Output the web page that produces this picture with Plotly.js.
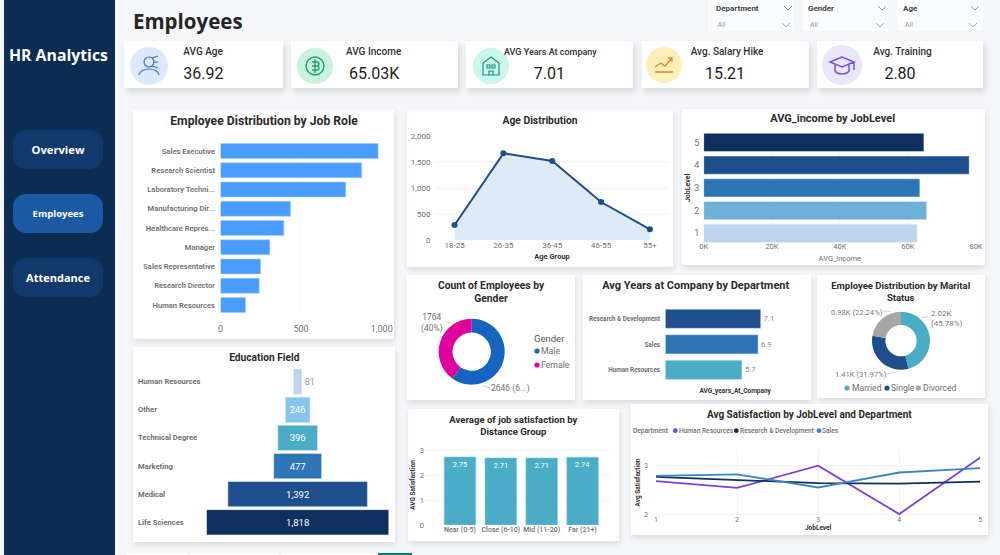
<!DOCTYPE html>
<html><head><meta charset="utf-8">
<script src="https://cdn.plot.ly/plotly-3.0.1.min.js"></script>
<style>
html,body{margin:0;padding:0;width:1000px;height:555px;overflow:hidden;background:#f4f6f9;font-family:Roboto,sans-serif}
.a{position:absolute}
.card{position:absolute;background:#fff;box-shadow:1px 3px 6px rgba(0,0,0,.10)}
.kpi{position:absolute;background:#fff;box-shadow:2px 4px 6px rgba(0,0,0,.13);top:41px;height:47px}
.circ{position:absolute;border-radius:50%}
.t{position:absolute;white-space:nowrap;line-height:1;transform:translateY(-50%)}
.c{transform:translate(-50%,-50%)}
.nav{position:absolute;left:13px;width:90px;height:39px;border-radius:13px;background:#12396b;color:#fff;font-family:"Open Sans",sans-serif;font-weight:700;display:flex;align-items:center;justify-content:center}
.fb{position:absolute;top:0;height:31px;background:#fbfcfd}
svg{position:absolute;overflow:visible}
</style></head><body>
<div class="a" style="left:4px;top:0;width:111px;height:555px;background:#0c2c52"></div>
<div class="t" style="left:9px;top:55px;color:#fff;font:700 15.8px 'Open Sans',sans-serif">HR Analytics</div>
<div class="nav" style="top:130px;font-size:11.2px">Overview</div>
<div class="nav" style="top:194px;font-size:9.5px;background:#1a5aa5">Employees</div>
<div class="nav" style="top:258px;font-size:11px">Attendance</div>
<div class="t" style="left:133px;top:21px;color:#252525;font:700 20.5px 'Open Sans',sans-serif">Employees</div>
<div id="filters"></div><div id="kpis"></div><div id="charts"></div>
<script>
// ---- data ----
const kpiLabels = ['AVG Age','AVG Income','AVG Years At company','Avg. Salary Hike','Avg. Training'];
const kpiValues = ['36.92','65.03K','7.01','15.21','2.80'];
const filterNames = ['Department','Gender','Age'];
const roleCats = ['Human Resources','Research Director','Sales Representative','Manager','Healthcare Repres...','Manufacturing Dir...','Laboratory Techni...','Research Scientist','Sales Executive'];
const roleVals = [156,240,249,306,393,435,777,876,978];
const ageCats = ['18-25','26-35','36-45','46-55','55+'];
const ageVals = [292,1663,1516,732,210];
const levelCats = ['1','2','3','4','5'];
const incomeVals = [62700,65500,63500,78000,64700];
const levelColors = ['#bcd4ec','#6fb0d9','#2e75b6','#1f4e8c','#0f2f5f'];
const genderCats = ['Male','Female'];
const genderVals = [2646,1764];
const deptCats = ['Human Resources','Sales','Research & Development'];
const deptYears = [5.7,6.9,7.1];
const deptColors = ['#4bacc6','#2e75b6','#1f4e8c'];
const maritalCats = ['Married','Single','Divorced'];
const maritalVals = [2019,1410,981];
const maritalColors = ['#4bacc6','#1f4e8c','#a6a6a6'];
const eduCats = ['Life Sciences','Medical','Marketing','Technical Degree','Other','Human Resources'];
const eduVals = [1818,1392,477,396,246,81];
const eduColors = ['#0f2f5f','#1f4e8c','#2e75b6','#4bacc6','#85c4ee','#bcd4ec'];
const distCats = ['Near (0-5)','Close (6-10)','Mid (11-20)','Far (21+)'];
const distVals = [2.75,2.71,2.71,2.74];
const jobLevels = [1,2,3,4,5];
const hrSat = [2.68,2.54,3.0,2.0,3.17];
const rdSat = [2.77,2.71,2.64,2.63,2.67];
const salesSat = [2.79,2.82,2.55,2.86,2.95];

// ---- chrome ----
const F = 'Roboto, sans-serif', GR='#6f6f6f', DK='#2b2b2b';
const chev = (x,y,c)=>`<svg style="left:${x-4}px;top:${y-2}px" width="8" height="4"><path d="M0 0L4 4L8 0" fill="none" stroke="${c}" stroke-width=".8"/></svg>`;
document.getElementById('filters').innerHTML = filterNames.map((n,i)=>{
  const bx=[708,802,897][i], bw=[85,86,86][i], lx=[716,808,903][i], ax=[717.5,810,905][i], c1=[787.5,882,975][i];
  return `<div class="fb" style="left:${bx}px;width:${bw}px"></div>
  <div class="t" style="left:${lx}px;top:9px;font-size:8px;font-weight:700;color:#444">${n}</div>
  <div class="t" style="left:${ax}px;top:24.7px;font-size:7px;color:#999">All</div>`+chev(c1,8,'#888')+chev(c1-2,24.7,'#999');
}).join('');
const kb=[[124,159],[291,167],[466,167],[642,167],[817,166]];
const circ=[[149,65.7,19,'#dce8fb'],[314.7,66,18,'#c8f3dc'],[490.7,66,18,'#c9f7ea'],[664,65,18,'#fbeeba'],[841.7,65,20,'#ece6fb']];
const lblX=[183.3,346,504,690.7,873.3], lblSize=[10,10,9,10,10];
const valPos=[[183.3,0],[349,0],[549.3,1],[725,1],[900,1]];
const icons=[
 `<circle cx="0" cy="-4" r="5" fill="none" stroke="#3d6fd0" stroke-width="1.2"/><path d="M3 -8L9 -10M4 -4L9 -4M3 0L9 2M-10 9C-9 1 9 1 10 9" fill="none" stroke="#3d6fd0" stroke-width="1.2"/>`,
 `<circle r="9" fill="none" stroke="#1f9e6e" stroke-width="1.4"/><path d="M-3 -4H2A2 2 0 0 1 2 0H-3H2A2 2 0 0 1 2 4H-3M0 -7V7" fill="none" stroke="#1f9e6e" stroke-width="1.3"/>`,
 `<path d="M-8 9V-3L0 -9L8 -3V9ZM-4 -1H-1V2H-4ZM1 -1H4V2H1ZM-2 9V5H2V9Z" fill="none" stroke="#1f8f7e" stroke-width="1.2"/>`,
 `<path d="M-9 7H9M-9 2L-3 -2L1 1L8 -7M4 -7H8V-3" fill="none" stroke="#d98a2b" stroke-width="1.3"/>`,
 `<path d="M0 -8L-12 -3L0 2L12 -3ZM-7 0V6C-4 10 4 10 7 6V0M12 -3V5" fill="none" stroke="#7a4fe0" stroke-width="1.5"/>`
];
document.getElementById('kpis').innerHTML = kpiLabels.map((n,i)=>{
  const c=circ[i], vp=valPos[i];
  return `<div class="kpi" style="left:${kb[i][0]}px;width:${kb[i][1]}px"></div>
  <div class="circ" style="left:${c[0]-c[2]}px;top:${c[1]-c[2]}px;width:${2*c[2]}px;height:${2*c[2]}px;background:${c[3]}"></div>
  <svg style="left:${c[0]}px;top:${c[1]}px" width="1" height="1">${icons[i]}</svg>
  <div class="t" style="left:${lblX[i]}px;top:51.5px;font-size:${lblSize[i]}px;font-weight:500;color:#303030">${n}</div>
  <div class="t ${vp[1]?'c':''}" style="left:${vp[0]}px;top:73.5px;font-size:16px;color:#222">${kpiValues[i]}</div>`;
}).join('');
[[377,35,'#0f7a6b'],[127,60,'#fff'],[190,88,'#fff'],[282,96,'#fff']].forEach(b=>{
  const tab=document.createElement('div');tab.className='a';tab.style.cssText=`left:${b[0]}px;top:553px;width:${b[1]}px;height:2px;background:${b[2]}`;document.body.appendChild(tab);
});

// ---- chart helper: card is [x0,y0,x1,y1] in page pixels ----
function chart(card, titleText, titlePx, titleSize, traces, axes, notes, shapes){
  const [x0,y0,x1,y1]=card, w=x1-x0, h=y1-y0;
  const d=document.createElement('div');
  d.className='card';
  d.style.cssText=`left:${x0}px;top:${y0}px;width:${w}px;height:${h}px`;
  document.getElementById('charts').appendChild(d);
  const px=x=>(x-x0)/w, py=y=>1-(y-y0)/h;
  const ax=axes(px,py);
  const layout=Object.assign({
    width:w,height:h,margin:{l:0,r:0,t:0,b:0,pad:0},autosize:false,showlegend:false,
    paper_bgcolor:'#fff',plot_bgcolor:'rgba(0,0,0,0)',font:{family:F,color:GR,size:9},
    title:{text:titleText,font:{family:F,size:titleSize,color:DK,weight:700},x:px(titlePx[0]),xref:'paper',xanchor:'center',y:py(titlePx[1]),yref:'paper',yanchor:'middle'},
    annotations:(notes||[]).map(n=>Object.assign({xref:'paper',yref:'paper',showarrow:false,xanchor:'center',yanchor:'middle',font:{family:F,size:9,color:GR}},n,
       {x:px(n.xanchor==='left'?n.x-2:n.x), y:n.yref?n.y:py(n.y)})),
    shapes:(shapes||[]).map(s=>s.circle?{type:'circle',xref:'paper',yref:'paper',x0:px(s.circle[0]-s.circle[2]),x1:px(s.circle[0]+s.circle[2]),y0:py(s.circle[1]-s.circle[2]),y1:py(s.circle[1]+s.circle[2]),fillcolor:s.color,line:{width:0}}
       :{type:'line',xref:'paper',yref:'paper',x0:px(s.line[0]),y0:py(s.line[1]),x1:px(s.line[2]),y1:py(s.line[3]),line:{color:'#c9c9c9',width:.8}})
  },ax);
  Plotly.newPlot(d,traces,layout,{staticPlot:true,displayModeBar:false});
}
const pieDom=(card,cx,cy,r)=>{const w=card[2]-card[0],h=card[3]-card[1];
  return {x:[(cx-r-card[0])/w,(cx+r-card[0])/w],y:[1-(cy+r-card[1])/h,1-(cy-r-card[1])/h]};};
const GRID='#f0f0f0', NOCOL='rgba(0,0,0,0)';
const boldT=(text,size,standoff)=>({text,font:{family:F,size,color:'#333',weight:700},standoff});

// Job role
chart([133,110,394,339],'Employee Distribution by Job Role',[264,121],12.2,
 [{type:'bar',orientation:'h',y:roleCats,x:roleVals,marker:{color:'#4a9cff',line:{color:'#a9cfff',width:.6}},width:.78}],
 (px,py)=>({xaxis:{domain:[px(220.5),px(381.7)],range:[0,1000],tickvals:[0,500,1000],tickformat:',',showgrid:true,gridcolor:'#f7f7f7',zeroline:false,ticks:'outside',ticklen:6,tickcolor:NOCOL,tickfont:{size:9,color:GR},anchor:'y'},
   yaxis:{domain:[py(314.6),py(141.4)],type:'category',categoryorder:'array',categoryarray:roleCats,range:[-.5,8.5],showgrid:false,zeroline:false,ticks:'outside',ticklen:3,tickcolor:NOCOL,tickfont:{size:7.6,color:GR,weight:600},anchor:'x'}}));

// Age
chart([407,110,673,267],'Age Distribution',[540,120.3],10.3,
 [{type:'scatter',mode:'lines+markers',x:ageCats,y:ageVals,fill:'tozeroy',fillcolor:'#deebf7',line:{color:'#1f4e8c',width:2},marker:{color:'#1f4e8c',size:6}}],
 (px,py)=>({xaxis:{domain:[px(436),px(668)],type:'category',range:[-.38,4.37],showgrid:false,zeroline:false,ticks:'',ticklabelstandoff:-1,tickfont:{size:8,color:GR},title:boldT('Age Group',7.5,4)},
   yaxis:{domain:[py(240.3),py(135.7)],range:[0,2000],tickvals:[0,500,1000,1500,2000],tickformat:',',gridcolor:GRID,zeroline:false,ticks:'outside',ticklen:3,tickcolor:NOCOL,tickfont:{size:8,color:GR}}}));

// Income
chart([682,109,985,265],'AVG_income by JobLevel',[832.7,117.7],11,
 [{type:'bar',orientation:'h',y:levelCats,x:incomeVals,marker:{color:levelColors,line:{color:'#e8f0f8',width:.5}},width:.8}],
 (px,py)=>({xaxis:{domain:[px(703.7),px(976)],range:[0,80000],tickvals:[0,20000,40000,60000,80000],ticktext:['0K','20K','40K','60K','80K'],gridcolor:'#f7f7f7',zeroline:false,ticks:'',ticklabelstandoff:-4,tickfont:{size:7.5,color:GR},title:{text:'AVG_income',font:{family:F,size:7.5,color:GR},standoff:5}},
   yaxis:{domain:[py(244.7),py(131)],type:'category',categoryorder:'array',categoryarray:levelCats,range:[-.5,4.5],showgrid:false,zeroline:false,ticks:'outside',ticklen:1.5,tickcolor:NOCOL,tickfont:{size:9,color:GR},title:boldT('JobLevel',7,2)}}));

// Gender
const cardG=[407,275,575,400];
chart(cardG,'Count of Employees by<br>Gender',[491,288.5],10.3,
 [{type:'pie',labels:genderCats,values:genderVals,hole:.58,sort:false,direction:'clockwise',rotation:0,textinfo:'none',domain:pieDom(cardG,471.7,351.7,33),marker:{colors:['#1565c0','#e000a0']}}],
 ()=>({}),
 [{text:'1764<br>(40%)',x:431.7,y:322.7,font:{size:8.5,color:GR}},
  {text:'2646 (6...)',x:510,y:388,font:{size:8.5,color:GR}},
  {text:'Gender',x:534,y:338,xanchor:'left',font:{size:9.5,color:'#555'}},
  {text:genderCats[0],x:541,y:351,xanchor:'left',font:{size:8.7,color:GR}},
  {text:genderCats[1],x:541,y:365,xanchor:'left',font:{size:8.7,color:GR}}],
 [{line:[445,321.7,452,323]},{line:[483,385.7,490,388]},
  {circle:[537,351,2.6],color:'#1565c0'},{circle:[537,365,2.6],color:'#e000a0'}]);

// Years at company
chart([583,275,811,400],'Avg Years at Company by Department',[695.7,285],11,
 [{type:'bar',orientation:'h',y:deptCats,x:deptYears,marker:{color:deptColors,line:{color:'#cfe3f3',width:.6}},width:.75,text:deptYears.map(String),textposition:'outside',cliponaxis:false,outsidetextfont:{size:7.5,color:'#8a8a8a'}}],
 (px,py)=>({xaxis:{domain:[px(665.3),px(805)],range:[0,10.39],showgrid:false,zeroline:false,showticklabels:false,ticks:'',title:boldT('AVG_years_At_Company',6.5,5)},
   yaxis:{domain:[py(382.6),py(306)],type:'category',categoryorder:'array',categoryarray:deptCats,range:[-.5,2.5],showgrid:false,zeroline:false,ticks:'outside',ticklen:3,tickcolor:NOCOL,tickfont:{size:6.3,color:GR,weight:700}}}));

// Marital
const cardM=[817,275,985,398];
chart(cardM,'Employee Distribution by Marital<br>Status',[900.7,288.5],9.5,
 [{type:'pie',labels:maritalCats,values:maritalVals,hole:.54,sort:false,direction:'clockwise',rotation:0,textinfo:'none',domain:pieDom(cardM,901,340.7,29),marker:{colors:maritalColors}}],
 ()=>({}),
 [{text:'0.98K (22.24%)',x:856.7,y:312.3,font:{size:7.6,color:'#7a7a7a'}},
  {text:'2.02K<br>(45.78%)',x:930.7,y:318,xanchor:'left',align:'left',font:{size:8,color:'#7a7a7a'}},
  {text:'1.41K (31.97%)',x:861,y:374.7,font:{size:7.6,color:'#7a7a7a'}},
  {text:maritalCats[0],x:851.7,y:388,xanchor:'left',font:{size:8.6,color:GR}},
  {text:maritalCats[1],x:890.7,y:388,xanchor:'left',font:{size:8.6,color:GR}},
  {text:maritalCats[2],x:922.7,y:388,xanchor:'left',font:{size:8.6,color:GR}}],
 [{line:[883,311,890,311.5]},{line:[921.7,318,928,316.7]},{line:[886,374,895,372.3]},
  {circle:[847,388,2.6],color:maritalColors[0]},{circle:[887,388,2.6],color:maritalColors[1]},{circle:[918.3,388,2.6],color:maritalColors[2]}]);

// Education funnel
chart([133,347,395,542],'Education Field',[264.3,357.7],10.2,
 [{type:'funnel',orientation:'h',y:eduCats,x:eduVals,marker:{color:eduColors,line:{color:'#dbe9f5',width:.6}},connector:{visible:false},
   texttemplate:'%{x:,}',textposition:['inside','inside','inside','inside','inside','outside'],constraintext:'none',
   insidetextfont:{size:9.5,color:'#fff'},outsidetextfont:{size:9,color:'#9a9a9a'},cliponaxis:false,textangle:0}],
 (px,py)=>({funnelgap:.1,
   xaxis:{domain:[px(206.5),px(388.8)],range:[-909,909],visible:false},
   yaxis:{domain:[py(536.4),py(367.6)],type:'category',categoryorder:'array',categoryarray:eduCats,range:[-.5,5.5],showticklabels:false,showgrid:false,zeroline:false,ticks:''}}),
 eduCats.map(c=>({text:c,x:138.3,y:c,yref:'y',xanchor:'left',font:{size:7.6,color:GR,weight:700}})));

// Job satisfaction by distance
chart([408,409,619,541],'Average of job satisfaction by<br>Distance Group',[513.3,423],9.6,
 [{type:'bar',x:distCats,y:distVals,marker:{color:'#4bacc6',line:{color:'#8ed0e2',width:.6}},width:.775,texttemplate:'%{y:.2f}',textposition:'inside',insidetextanchor:'end',insidetextfont:{size:7.5,color:'#fff'},constraintext:'none',textangle:0}],
 (px,py)=>({xaxis:{domain:[px(425),px(612)],type:'category',range:[-.856,3.72],showgrid:false,zeroline:false,ticks:'',ticklabelstandoff:-1,tickfont:{size:7,color:GR,weight:500}},
   yaxis:{domain:[py(525),py(445)],range:[0,3.23],tickvals:[0,1,2,3],gridcolor:'#f5f5f5',zeroline:false,ticks:'',tickfont:{size:7.5,color:GR},title:boldT('AVG Satisfaction',6.5,3)}}));

// Line chart
const lnColors=['#7b3fe4','#0f2f5f','#3d85c6'];
const lnNames=['Human Resources','Research & Development','Sales'];
chart([631,404,988,535],'Avg Satisfaction by JobLevel and Department',[809.3,414],10,
 [hrSat,rdSat,salesSat].map((v,i)=>({type:'scatter',mode:'lines',name:lnNames[i],x:jobLevels,y:v,line:{color:lnColors[i],width:1.8},cliponaxis:false})),
 (px,py)=>({xaxis:{domain:[px(656),px(980.3)],range:[1,5],tickvals:jobLevels,gridcolor:'#f5f5f5',zeroline:false,ticks:'',ticklabelstandoff:-2,tickfont:{size:7,color:GR},title:boldT('JobLevel',6.5,1)},
   yaxis:{domain:[py(516),py(449)],range:[1.96,3.346],tickvals:[2,3],gridcolor:'#f5f5f5',zeroline:false,ticks:'',ticklabelstandoff:7,tickfont:{size:7,color:GR},title:boldT('Avg Satisfaction',6.5,2)}}),
 [{text:'Department',x:633,y:430.7,xanchor:'left',font:{size:6.6,color:GR,weight:500}},
  {text:lnNames[0],x:679,y:430.7,xanchor:'left',font:{size:6.6,color:GR,weight:500}},
  {text:lnNames[1],x:740,y:430.7,xanchor:'left',font:{size:6.6,color:GR,weight:500}},
  {text:lnNames[2],x:822.3,y:430.7,xanchor:'left',font:{size:6.6,color:GR,weight:500}}],
 [{circle:[675.3,430.7,2.4],color:lnColors[0]},{circle:[736.3,430.7,2.4],color:lnColors[1]},{circle:[819,430.7,2.4],color:lnColors[2]}]);
</script>
</body></html>
